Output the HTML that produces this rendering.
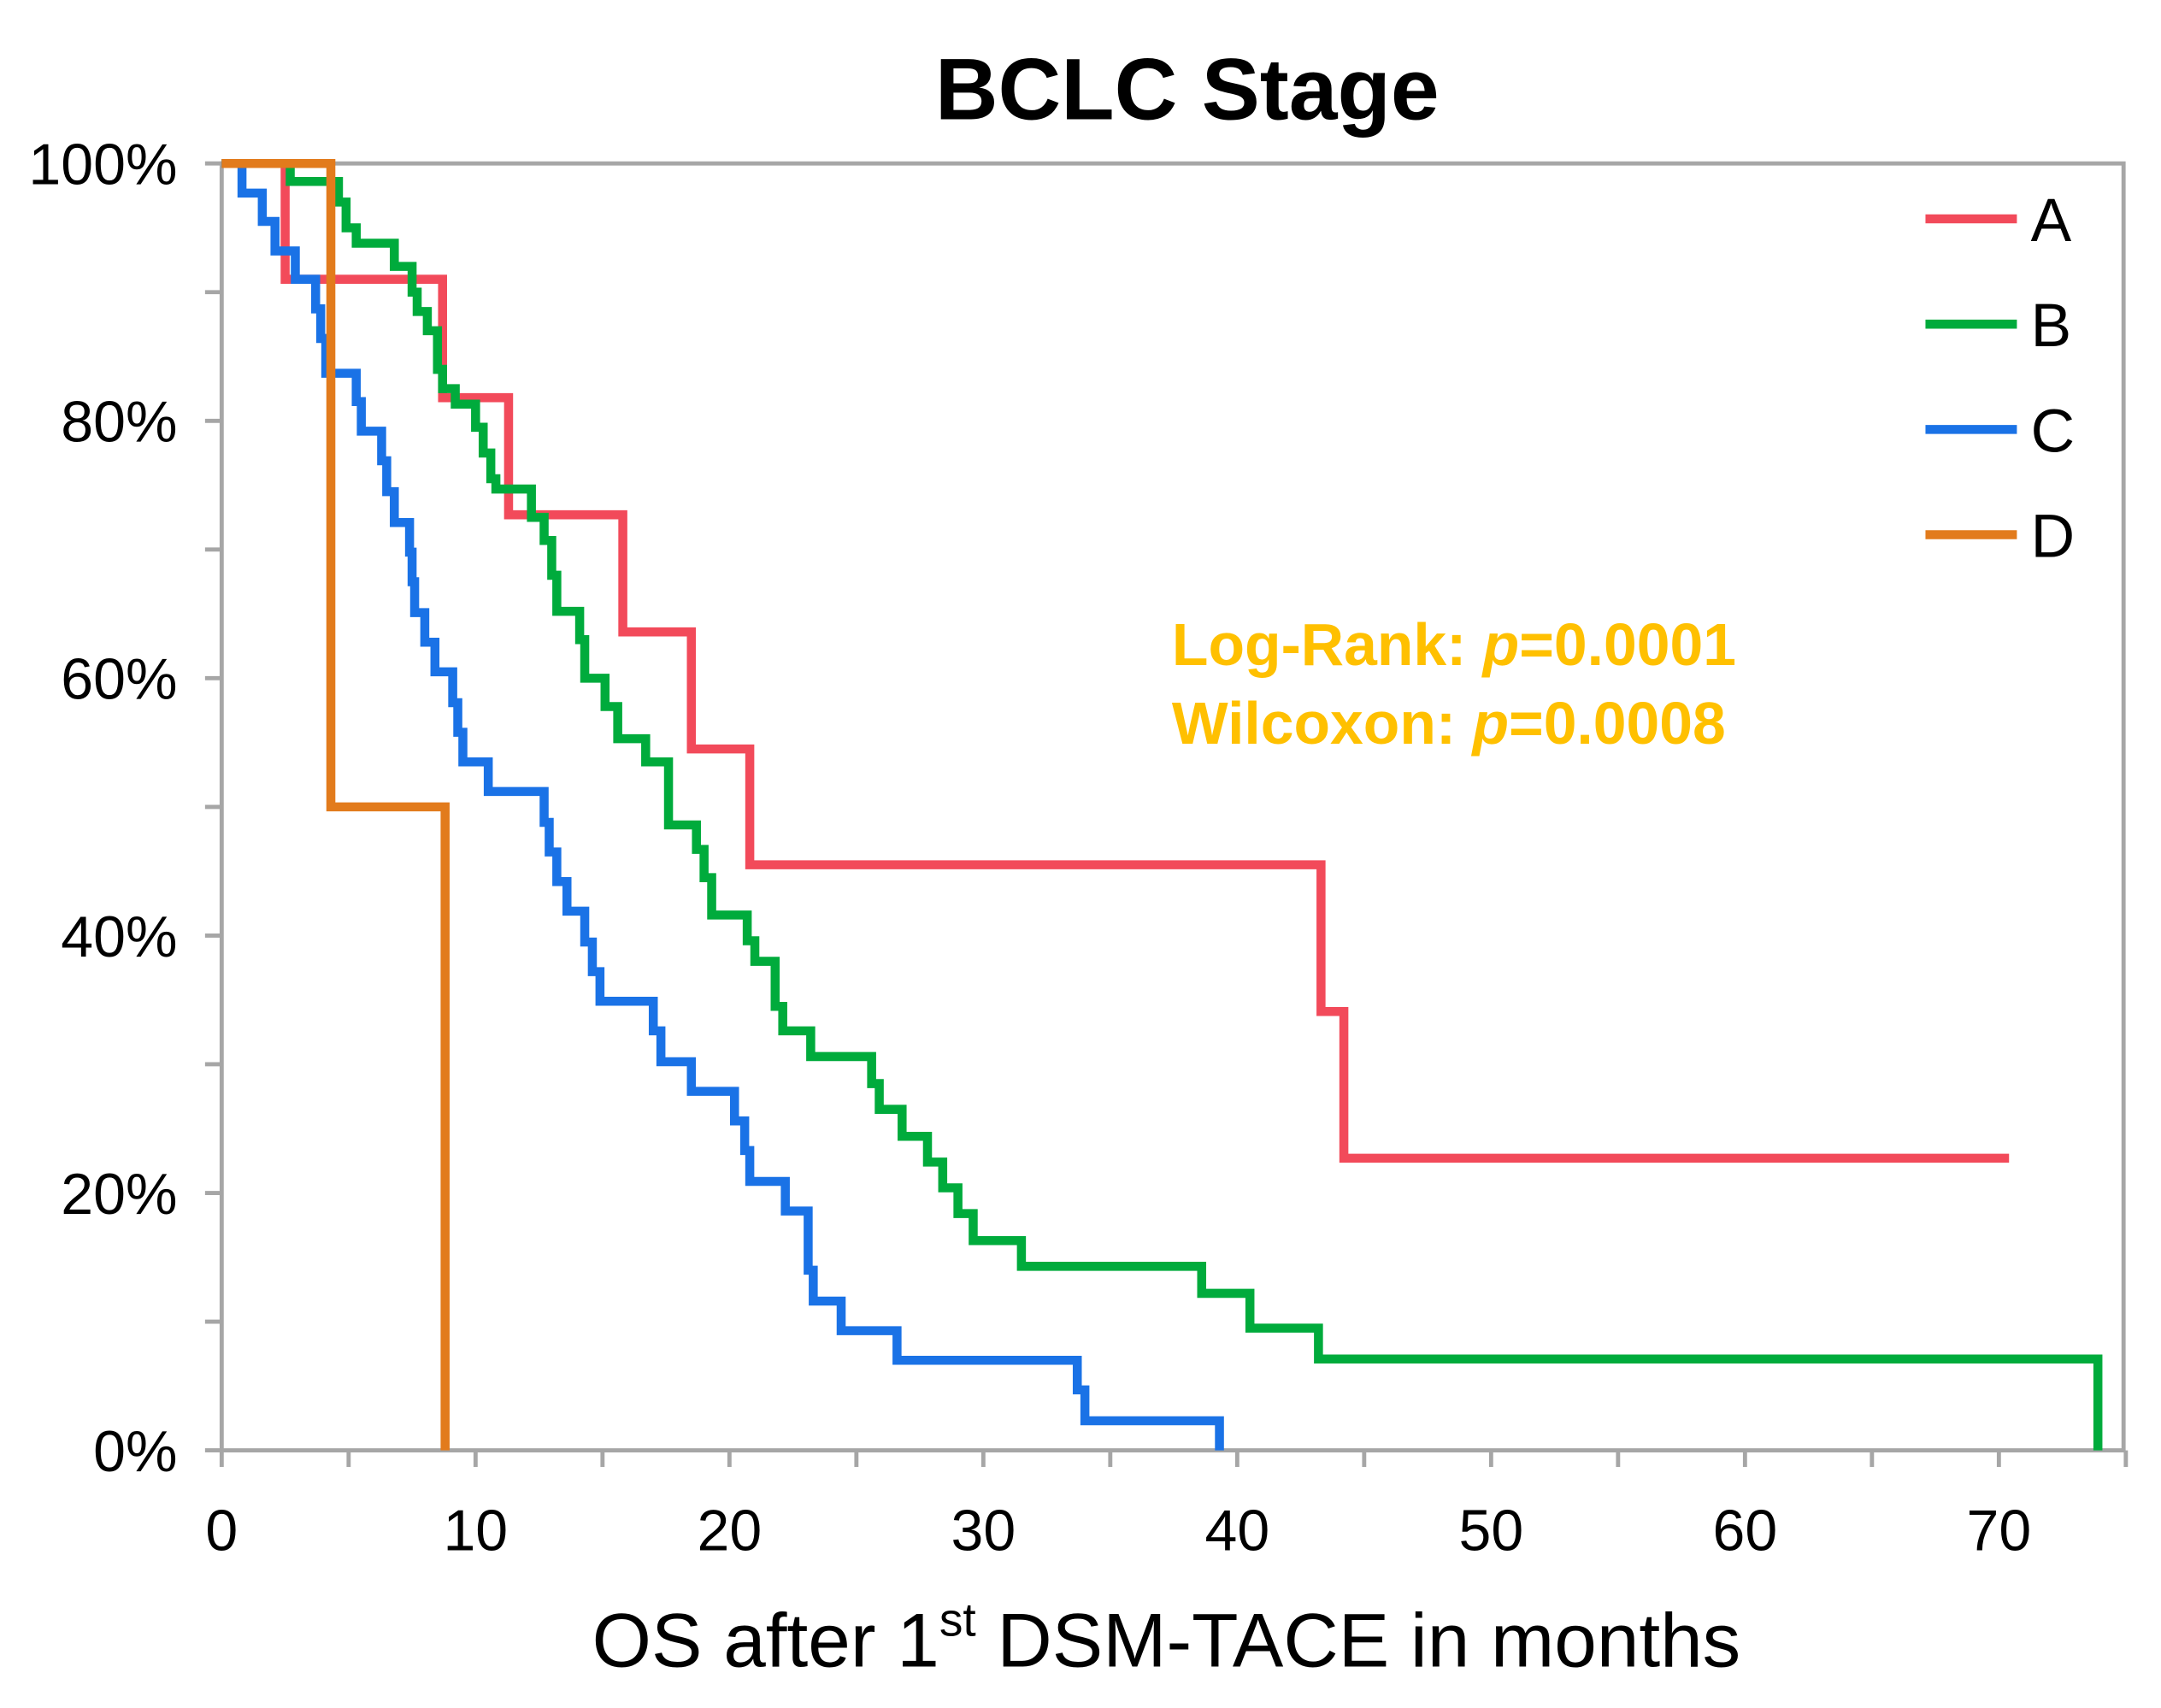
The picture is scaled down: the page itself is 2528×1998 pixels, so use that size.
<!DOCTYPE html>
<html><head><meta charset="utf-8"><style>
html,body{margin:0;padding:0;background:#fff;}
svg{display:block;font-family:"Liberation Sans",Arial,sans-serif;}
</style></head><body>
<svg id="chart" width="2528" height="1998" viewBox="0 0 1560 1233" xmlns="http://www.w3.org/2000/svg">
<text x="857" y="86" text-anchor="middle" font-size="63" font-weight="bold">BCLC Stage</text>
<g id="axes"></g>
<g id="series"></g>
<g id="legend"></g>
<text x="846" y="480" font-size="43" font-weight="bold" fill="#ffc000">Log-Rank: <tspan font-style="italic">p</tspan>=0.0001</text>
<text x="846" y="537" font-size="43" font-weight="bold" fill="#ffc000">Wilcoxon: <tspan font-style="italic">p</tspan>=0.0008</text>
<text x="842" y="1203" text-anchor="middle" font-size="55">OS after 1<tspan font-size="34" dy="-22">st</tspan><tspan dy="22"> DSM-TACE in months</tspan></text>
</svg>
<script>
const xTicks=[0,10,20,30,40,50,60,70];
const yTicks=[0,20,40,60,80,100];
const seriesNames=["A","B","C","D"];
const seriesColors=["#f24a5a","#00ab3c","#1a72e6","#e27b1c"];
const timesA=[0,2.5,8.7,11.3,15.8,18.5,20.8,43.3,44.2,70.4];
const survA=[100,91,81.8,72.7,63.6,54.5,45.5,34.1,22.7,22.7];
const timesB=[0,2.7,4.6,4.9,5.3,6.8,7.5,7.7,8.1,8.5,8.7,9.2,10.0,10.3,10.6,10.8,12.2,12.7,13.0,13.2,14.1,14.3,15.1,15.6,16.7,17.6,18.7,19.0,19.3,20.7,21.0,21.8,22.1,23.2,25.6,25.9,26.8,27.8,28.4,29.0,29.6,31.5,38.6,40.5,43.2,73.9];
const survB=[100,98.6,97,95,93.8,92,90,88.5,87,84,82.5,81.3,79.5,77.5,75.5,74.7,72.5,70.7,68,65.2,63,60,57.8,55.3,53.5,48.6,46.7,44.5,41.6,39.6,38,34.5,32.6,30.6,28.5,26.5,24.4,22.4,20.4,18.4,16.3,14.3,12.2,9.5,7.1,0];
const timesC=[0,0.8,1.6,2.1,2.9,3.7,3.9,4.1,5.3,5.5,6.3,6.5,6.8,7.4,7.5,7.6,8.0,8.4,9.1,9.3,9.5,10.5,12.7,12.9,13.2,13.6,14.3,14.6,14.9,17.0,17.3,18.5,20.2,20.6,20.8,22.2,23.1,23.3,24.4,26.6,33.7,34.0,39.3];
const survC=[100,97.7,95.5,93.2,91,88.7,86.4,83.7,81.5,79.2,76.9,74.5,72.1,69.8,67.5,65.1,62.8,60.5,58.1,55.8,53.5,51.2,48.8,46.5,44.2,41.9,39.5,37.2,34.9,32.6,30.2,27.9,25.6,23.3,20.9,18.6,14,11.6,9.3,7.0,4.7,2.3,0];
const timesD=[0,4.3,8.8];
const survD=[100,50,0];

const NS="http://www.w3.org/2000/svg";
const X0=160,X1=1533,Y0=1047,Y1=118;
function sx(t){return X0+t*(1443-160)/70;}
function sy(p){return Y0-p*(Y0-Y1)/100;}
function mk(tag,attrs,parent){const e=document.createElementNS(NS,tag);for(const k in attrs)e.setAttribute(k,attrs[k]);parent.appendChild(e);return e;}
const axes=document.getElementById('axes');
const gray="#a6a6a6";
const frame=mk('rect',{x:X0,y:Y1,width:X1-X0,height:Y0-Y1,fill:'none',stroke:gray,'stroke-width':3},axes);


for(let t=0;t<=75;t+=5){
  const tk=mk('line',{x1:sx(t),x2:sx(t),y1:Y0,y2:Y0+12,stroke:gray,'stroke-width':3},axes);
  
  
}
xTicks.forEach(v=>{
  const l=mk('text',{x:sx(v),y:Y0+72,'text-anchor':'middle','font-size':42},axes);l.textContent=v;
  
  
});
for(let p=0;p<=100;p+=10){
  const tk=mk('line',{x1:X0-12,x2:X0,y1:sy(p),y2:sy(p),stroke:gray,'stroke-width':3},axes);
  
  
}
yTicks.forEach(v=>{
  const l=mk('text',{x:X0-32,y:sy(v)+15,'text-anchor':'end','font-size':42},axes);l.textContent=v+'%';
  
  
});
const ser=document.getElementById('series');
const data=[[timesA,survA],[timesB,survB],[timesC,survC],[timesD,survD]];
data.forEach((d,i)=>{
  const [ts,ss]=d;let path='M'+sx(ts[0])+','+sy(ss[0]);
  for(let k=1;k<ts.length;k++){path+=' H'+sx(ts[k])+' V'+sy(ss[k]);}
  const p=mk('path',{d:path,fill:'none',stroke:seriesColors[i],'stroke-width':6.5,'stroke-linejoin':'miter'},ser);
  
  
});
const leg=document.getElementById('legend');
seriesNames.forEach((n,i)=>{
  const y=158+i*76;
  const ln=mk('line',{x1:1390,x2:1456,y1:y,y2:y,stroke:seriesColors[i],'stroke-width':6.5},leg);
  
  
  const t=mk('text',{x:1466,y:y+16,'font-size':44},leg);t.textContent=n;
  
  
});
</script>
</body></html>
